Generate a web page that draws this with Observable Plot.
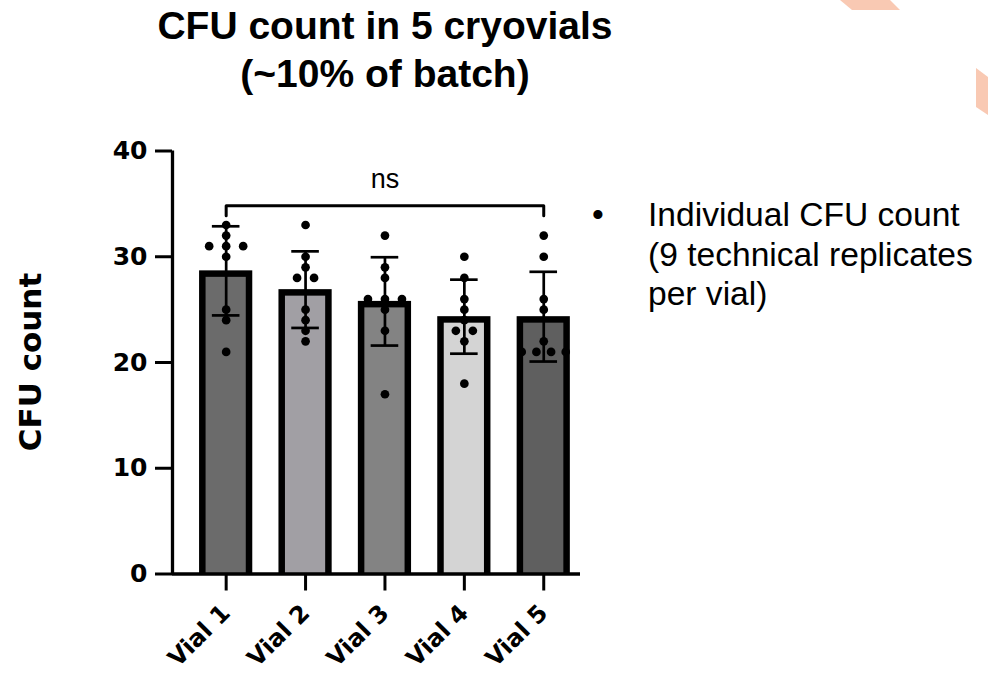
<!DOCTYPE html>
<html>
<head>
<meta charset="utf-8">
<script src="https://cdn.jsdelivr.net/npm/d3@7"></script>
<script src="https://cdn.jsdelivr.net/npm/@observablehq/plot@0.6"></script>
<style>
  html, body { margin: 0; padding: 0; background: #fff; }
  body { width: 988px; height: 674px; position: relative; overflow: hidden; font-family: Arial, "Liberation Sans", Helvetica, sans-serif; }
  #title { position: absolute; left: 0; top: 2px; width: 770px; text-align: center; font-weight: bold; font-size: 39px; line-height: 48px; color: #000; }
  #ylabel { position: absolute; left: 30px; top: 362px; transform: translate(-50%, -50%) rotate(-90deg); font-family: "DejaVu Sans", Verdana, sans-serif; font-weight: bold; font-size: 31px; white-space: nowrap; color: #000; }
  #legend { position: absolute; left: 592px; top: 195px; font-size: 33.6px; line-height: 39.5px; color: #000; }
  #legend .bullet { position: absolute; left: 0; top: 0; }
  #legend .txt { position: absolute; left: 56px; top: 0; white-space: nowrap; }
  #chart { position: absolute; left: 0; top: 0; }
  #deco { position: absolute; left: 0; top: 0; }
</style>
</head>
<body>
<svg id="deco" width="988" height="674">
  <polygon points="840,0 890,0 900,10 852,10" fill="#f9c9b3"/>
  <polygon points="976,68 988,77 988,115 976,107" fill="#f9c9b3"/>
</svg>
<div id="title">CFU count in 5 cryovials<br>(~10% of batch)</div>
<div id="chart"></div>
<div id="ylabel">CFU count</div>
<div id="legend"><span class="bullet">•</span><span class="txt">Individual CFU count<br>(9 technical replicates<br>per vial)</span></div>
<script>
// ---- data ----
const vials = ["Vial 1", "Vial 2", "Vial 3", "Vial 4", "Vial 5"];
const vial1 = [33, 32, 31, 31, 31, 30, 25, 24, 21];
const vial2 = [33, 30, 29, 28, 28, 25, 24, 23, 22];
const vial3 = [32, 29, 28, 26, 26, 26, 25, 23, 17];
const vial4 = [30, 28, 26, 25, 24, 23, 23, 22, 18];
const vial5 = [32, 30, 26, 25, 22, 21, 21, 21, 21];
const barColors = ["#6b6b6b", "#a19fa4", "#838383", "#d4d4d4", "#5f5f5f"];
const yTicks = [0, 10, 20, 30, 40];
const significance = "ns";

// ---- layout ----
const W = 988, H = 674;
const mL = 172, mR = 408, mT = 150.5, mB = 100.5;
const xDomain = [0.324, 5.463];
const pxPerUnit = (W - mL - mR) / (xDomain[1] - xDomain[0]);
const barHalf = 26.6 / pxPerUnit;
const capHalf = 13.8 / pxPerUnit;
const border = 6.5;

const series = [vial1, vial2, vial3, vial4, vial5];
const summary = series.map((vals, k) => {
  const mean = d3.mean(vals), sd = d3.deviation(vals);
  return { i: k + 1, name: vials[k], mean, sd, lo: mean - sd, hi: mean + sd, color: barColors[k] };
});

// dots spread horizontally when values coincide
const points = [];
series.forEach((vals, k) => {
  const groups = d3.group(vals, v => v);
  for (const [v, arr] of groups) {
    const n = arr.length;
    const sp = n > 1 ? Math.min(17, 44 / (n - 1)) : 0;
    arr.forEach((_, j) => {
      points.push({ x: k + 1 + ((j - (n - 1) / 2) * sp) / pxPerUnit, y: v });
    });
  }
});

const bracketY = d3.max(summary, d => d.hi) + 1.95;
const bracketDrop = 0.95;
const bracket = [
  { x: 1, y: bracketY - bracketDrop },
  { x: 1, y: bracketY },
  { x: 5, y: bracketY },
  { x: 5, y: bracketY - bracketDrop }
];

const font = "Arial, 'Liberation Sans', Helvetica, sans-serif";
const tickFont = "'DejaVu Sans', Verdana, sans-serif";

const chart = Plot.plot({
  width: W,
  height: H,
  marginLeft: mL,
  marginRight: mR,
  marginTop: mT,
  marginBottom: mB,
  style: { fontFamily: font, background: "transparent", overflow: "visible", color: "#000" },
  x: { domain: xDomain, axis: null },
  y: { domain: [0, 40], axis: null },
  color: { type: "identity" },
  marks: [
    Plot.rect(summary, { x1: d => d.i - barHalf, x2: d => d.i + barHalf, y1: 0, y2: "mean", fill: "#000" }),
    Plot.rect(summary, { x1: d => d.i - barHalf, x2: d => d.i + barHalf, y1: 0, y2: "mean", fill: "color",
      insetLeft: border, insetRight: border, insetTop: border }),
    Plot.ruleX(summary, { x: "i", y1: "lo", y2: "hi", stroke: "#000", strokeWidth: 2.7 }),
    Plot.ruleY(summary, { y: "hi", x1: d => d.i - capHalf, x2: d => d.i + capHalf, stroke: "#000", strokeWidth: 2.7 }),
    Plot.ruleY(summary, { y: "lo", x1: d => d.i - capHalf, x2: d => d.i + capHalf, stroke: "#000", strokeWidth: 2.7 }),
    Plot.dot(points, { x: "x", y: "y", r: 4.35, fill: "#000", stroke: "none" }),
    Plot.line(bracket, { x: "x", y: "y", stroke: "#000", strokeWidth: 3 }),
    Plot.text([significance], { x: 3, y: bracketY, text: d => d, dy: -26, fontSize: 27, fill: "#000" }),
    Plot.axisY({ ticks: yTicks, tickSize: 17, tickPadding: 8, fontSize: 25, fontWeight: "bold", fontFamily: tickFont,
      strokeWidth: 3, label: null }),
    Plot.axisX({ ticks: [1, 2, 3, 4, 5], tickFormat: i => vials[i - 1], tickSize: 17, tickPadding: 18, tickRotate: -45,
      fontSize: 24, fontWeight: "bold", fontFamily: tickFont, strokeWidth: 3, label: null }),
    Plot.ruleX([xDomain[0]], { y1: 0, y2: 40, stroke: "#000", strokeWidth: 3.3 }),
    Plot.ruleY([0], { stroke: "#000", strokeWidth: 3.3 })
  ]
});
document.getElementById("chart").appendChild(chart);
</script>
</body>
</html>
